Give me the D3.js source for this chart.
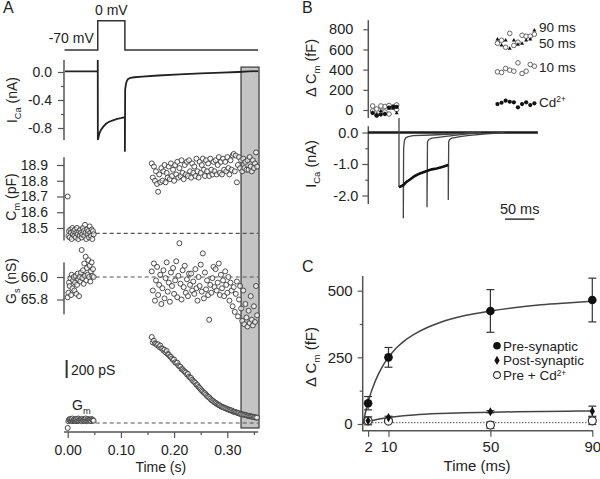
<!DOCTYPE html>
<html><head><meta charset="utf-8">
<script src="https://cdn.jsdelivr.net/npm/d3@7"></script>
<style>body{margin:0;background:#fff}svg{display:block}text{font-family:"Liberation Sans",Arial,Helvetica,sans-serif;fill:#222}</style>
</head><body><svg id="c" width="600" height="479"></svg>
<script>
// ================= DATA =================
// ---- Panel A ----
const voltageT  = [-0.006, 0.0565, 0.0565, 0.1075, 0.1075, 0.358];
const voltageMV = [-70, -70, 0, 0, -70, -70];

const icaAT  = [-0.005, 0.0565, 0.0565, 0.0567, 0.058, 0.060, 0.063, 0.067, 0.072, 0.078, 0.085, 0.093, 0.100, 0.1075, 0.1075, 0.108, 0.1095, 0.111, 0.1135, 0.118, 0.125, 0.140, 0.170, 0.210, 0.250, 0.290, 0.320, 0.340, 0.358];
const icaANA = [0.01, 0.01, 0.17, -0.97, -0.93, -0.87, -0.82, -0.78, -0.74, -0.71, -0.69, -0.67, -0.66, -0.645, -1.14, -0.25, -0.17, -0.13, -0.10, -0.085, -0.075, -0.065, -0.05, -0.035, -0.02, -0.008, 0.0, 0.008, 0.012];

const preStart = 0.0, preStep = 0.00125;     // sampling of the pre-pulse points (s)
const postStart = 0.158, postStep = 0.002;   // sampling of the post-pulse points (s)

const cmPre = [18.70, 18.45, 18.48, 18.44, 18.49, 18.47, 18.43, 18.50, 18.46, 18.48, 18.45, 18.49, 18.44, 18.47, 18.50, 18.46, 18.43, 18.48, 18.45, 18.49, 18.47, 18.44, 18.46, 18.50, 18.48, 18.45, 18.52, 18.47, 18.43, 18.49, 18.46, 18.48, 18.44, 18.51, 18.47, 18.45, 18.49, 18.43, 18.48, 18.46];
const cmPost = [
 18.91, 18.82, 18.89, 18.80, 18.86, 18.78, 18.73, 18.84, 18.79, 18.88,
 18.80, 18.86, 18.90, 18.79, 18.85, 18.82, 18.89, 18.81, 18.91, 18.83,
 18.87, 18.80, 18.90, 18.84, 18.92, 18.82, 18.88, 18.83, 18.93, 18.85,
 18.81, 18.90, 18.84, 18.92, 18.83, 18.93, 18.86, 18.82, 18.91, 18.85,
 18.89, 18.83, 18.94, 18.86, 18.82, 18.92, 18.85, 18.90, 18.94, 18.87,
 18.83, 18.93, 18.86, 18.91, 18.83, 18.94, 18.87, 18.84, 18.92, 18.86,
 18.93, 18.84, 18.90, 18.95, 18.85, 18.92, 18.84, 18.94, 18.87, 18.92,
 18.86, 18.95, 18.88, 18.84, 18.93, 18.87, 18.96, 18.97, 18.86, 18.96,
 18.79, 18.90, 18.95, 18.88, 18.93, 18.86, 18.94, 18.88, 18.92, 18.87,
 18.93, 18.87, 18.95, 18.89, 18.86, 18.93, 18.88, 18.91, 18.98, 18.89];
const cmBaseline = 18.466;

const gsPre = [65.82, 65.86, 65.95, 65.92, 65.99, 65.84, 66.02, 65.90, 65.97, 66.00, 65.88, 65.95, 66.01, 65.85, 65.93, 66.03, 65.98, 65.83, 66.00, 65.96, 66.04, 66.24, 65.99, 66.06, 65.94, 66.12, 66.01, 66.18, 65.97, 66.08, 66.02, 66.15, 66.00, 66.10, 65.96, 66.05, 66.13, 66.01, 66.07, 66.00];
const gsPost = [
 66.05, 65.88, 66.12, 65.79, 65.97, 66.09, 65.84, 65.93, 66.02, 65.76,
 65.90, 66.06, 65.81, 65.99, 66.13, 65.87, 65.95, 65.78, 66.04, 65.92,
 66.08, 65.85, 65.97, 66.14, 65.82, 66.01, 66.30, 65.94, 65.80, 66.06,
 65.91, 66.10, 65.86, 65.98, 65.83, 66.03, 65.93, 66.03, 65.88, 65.96,
 65.85, 66.07, 65.90, 65.79, 66.00, 65.92, 66.11, 65.87, 66.21, 65.81,
 66.04, 65.89, 65.97, 65.84, 65.62, 65.93, 65.86, 65.99, 66.09, 65.91,
 66.07, 65.88, 65.95, 66.12, 65.84, 66.02, 65.90, 65.97, 65.83, 66.05,
 65.93, 65.86, 66.00, 65.79, 65.95, 65.88, 65.74, 65.91, 65.69, 65.85,
 65.96, 65.65, 65.80, 65.92, 65.72, 65.61, 65.88, 65.58, 65.76, 65.64,
 65.56, 65.70, 65.59, 65.83, 65.62, 65.57, 65.74, 65.60, 65.92, 65.66];
const gsBaseline = 66.0;

const gmPre = [-55, 20, 40, 30, 45, 25, 35, 50, 20, 30, 40, 25, 35, 45, 20, 30, 50, 25, 40, 30, 35, 20, 45, 30, 25, 40, 35, 50, 20, 30, 45, 25, 35, 40, 30, 20, 45, 35, 30, 25];
const gmPost = [
 955, 895, 915, 885, 880, 865, 875, 845, 860, 830,
 825, 805, 815, 785, 800, 765, 760, 740, 735, 715,
 700, 705, 675, 665, 670, 640, 630, 625, 600, 595,
 580, 570, 560, 540, 545, 515, 505, 500, 480, 465,
 455, 445, 425, 420, 400, 390, 375, 360, 350, 335,
 330, 315, 300, 290, 285, 270, 255, 250, 240, 230,
 225, 215, 205, 200, 195, 185, 180, 175, 170, 165,
 160, 155, 150, 145, 140, 140, 130, 125, 125, 120,
 115, 110, 110, 100, 100, 95, 95, 90, 90, 85,
 80, 80, 75, 75, 70, 70, 65, 65, 60, 60];
const grayWindow = [0.3258, 0.3596];

// ---- Panel B ----
const bBaseT = [-53, 237], bBaseNA = [0, 0];
const bOnsetT = [0, 0], bOnsetNA = [0.46, -1.73];
const b10T  = [0, 7.4, 7.4, 7.9, 9.4, 12, 16, 24, 56, 100, 130];
const b10NA = [-1.73, -1.66, -2.72, -0.5, -0.24, -0.16, -0.13, -0.10, -0.08, -0.04, 0];
const b50T  = [0, 1.7, 7.3, 12, 18.8, 27, 35.8, 47.8, 47.8, 48.6, 51, 56, 64, 80, 110, 140];
const b50NA = [-1.73, -1.72, -1.67, -1.58, -1.49, -1.38, -1.30, -1.21, -2.37, -0.29, -0.22, -0.18, -0.16, -0.12, -0.06, 0];
const b90T  = [0, 1.7, 7.3, 12, 18.8, 27, 35.8, 47.3, 56, 64.3, 75, 84.1, 84.1, 84.8, 86.5, 90, 95.5, 104, 120, 150, 180];
const b90NA = [-1.73, -1.72, -1.67, -1.58, -1.49, -1.38, -1.30, -1.22, -1.17, -1.14, -1.09, -1.03, -2.14, -0.29, -0.22, -0.18, -0.16, -0.13, -0.09, -0.04, 0];

const bLeftT  = [-45, -38, -31, -24, -17, -10, -4];
const bRightT = [168, 175, 182, 189, 196, 203, 210, 217, 224, 231];
const dcm10Left  = [40, 10, 40, -20, 45, 25, 50];
const dcm50Left  = [-25, -45, -10, -35, 15, 20, -30];
const dcm90Left  = [-10, -50, 0, 35, -40, 30, 5];
const dcmCdLeft  = [-30, -55, -45, -40, 25, 30, 30];
const dcm10Right = [378, 372, 412, 395, 385, 467, 362, 385, 451, 434];
const dcm50Right = [700, 640, 691, 610, 691, 649, 659, 690, 700, 790];
const dcm90Right = [662, 691, 622, 760, 640, 672, 741, 731, 731, 751];
const dcmCdRight = [59, 72, 92, 82, 76, 27, 59, 76, 49, 66];
const bSeriesLabels = ["90 ms", "50 ms", "10 ms", "Cd"];

// ---- Panel C ----
const cTimes   = [2, 10, 50, 90];
const preMean  = [78, 250, 424, 465];
const preErr   = [25, 37, 80, 82];
const postMean = [12, 24, 46, 48];
const postErr  = [5, 5, 4, 19];
const cdMean   = [12, 11, -4, 12];
const cdErr    = [15, 5, 12, 14];
const fitPreT  = [0, 1, 2, 3, 4, 6, 8, 10, 13, 16, 20, 25, 30, 40, 50, 60, 70, 80, 90];
const fitPreV  = [0, 45, 82, 114, 141, 186, 222, 250, 284, 310, 336, 361, 380, 407, 424, 437, 447, 454, 460];
const fitPostT = [0, 2, 5, 10, 15, 20, 30, 40, 50, 60, 70, 80, 90];
const fitPostV = [3, 9, 16, 24, 30, 34, 39, 42, 44, 46, 47, 48, 49];
const cdLevel  = 5;
const legendLabels = ["Pre-synaptic", "Post-synaptic", "Pre + Cd"];

// ================= DRAW =================
const svg = d3.select("#c");
const sans = '"Liberation Sans", Arial, Helvetica, sans-serif';
const AX = "#555", INK = "#222";
const FA = 14, FB = 14.5, FC = 15;

function styleAxis(g, fs) {
  g.attr("font-family", sans).attr("font-size", fs);
  g.select(".domain").remove();
  g.selectAll(".tick line").attr("stroke", AX).attr("stroke-width", 1.2);
  g.selectAll(".tick text").attr("fill", INK);
}
function axisLine(x1, y1, x2, y2) {
  svg.append("line").attr("x1", x1).attr("y1", y1).attr("x2", x2).attr("y2", y2)
    .attr("stroke", AX).attr("stroke-width", 1.5);
}
function label(x, y, parts, opts = {}) {
  const fs = opts.fs || 15;
  const t = svg.append("text").attr("font-size", fs).attr("text-anchor", opts.anchor || "start");
  if (opts.rotate) t.attr("transform", `translate(${x},${y}) rotate(-90)`);
  else t.attr("x", x).attr("y", y);
  let shift = 0;
  parts.forEach(p => {
    const s = t.append("tspan").text(p.text);
    const want = p.sub ? 3.5 : p.sup ? -4.5 : 0;
    if (want !== shift) { s.attr("dy", want - shift); shift = want; }
    if (p.sub || p.sup) s.attr("font-size", fs * (p.sup ? 0.62 : 0.66));
  });
  return t;
}
const zip = (a, b) => a.map((d, i) => [d, b[i]]);

// ---------- Panel A scales ----------
const xA  = d3.scaleLinear().domain([0, 0.1]).range([67.7, 120.9]);
const vA  = d3.scaleLinear().domain([-70, 0]).range([50, 20.7]);
const iA  = d3.scaleLinear().domain([0, -0.8]).range([72, 128]);
const cmA = d3.scaleLinear().domain([18.9, 18.5]).range([165, 228]);
const gsA = d3.scaleLinear().domain([66.0, 65.8]).range([277, 299.5]);
const gmA = d3.scaleLinear().domain([0, 200]).range([423, 405]);

// gray analysis window
svg.append("rect").attr("x", xA(grayWindow[0])).attr("y", iA(0.07))
  .attr("width", xA(grayWindow[1]) - xA(grayWindow[0])).attr("height", gmA(-55) - iA(0.07))
  .attr("fill", "#c4c4c4").attr("stroke", "#444").attr("stroke-width", 1.3);

svg.append("text").attr("x", 3).attr("y", 13).attr("font-size", 16).text("A");

// voltage protocol
svg.append("path").attr("d", d3.line().x(d => xA(d[0])).y(d => vA(d[1]))(zip(voltageT, voltageMV)))
  .attr("fill", "none").attr("stroke", "#333").attr("stroke-width", 1.5);
svg.append("text").attr("x", xA(0.082)).attr("y", vA(0) - 6).attr("text-anchor", "middle").attr("font-size", FA).text("0 mV");
svg.append("text").attr("x", xA(0.0565) - 4).attr("y", vA(-70) - 7).attr("text-anchor", "end").attr("font-size", FA).text("-70 mV");

// ICa axis
axisLine(64, iA(0.17), 64, iA(-0.97));
svg.append("g").attr("transform", "translate(64,0)")
  .call(d3.axisLeft(iA).tickValues([0, -0.4, -0.8]).tickFormat(d => d.toFixed(1)).tickSize(6).tickPadding(6))
  .call(g => styleAxis(g, FA));
svg.append("g").attr("transform", "translate(64,0)")
  .call(d3.axisLeft(iA).tickValues([-0.2, -0.6]).tickFormat("").tickSize(3))
  .call(g => styleAxis(g, FA));
label(17, 100, [{text: "I"}, {text: "Ca", sub: true}, {text: " (nA)"}], {rotate: true, anchor: "middle", fs: FA});

// ICa trace
svg.append("path").attr("d", d3.line().x(d => xA(d[0])).y(d => iA(d[1]))(zip(icaAT, icaANA)))
  .attr("fill", "none").attr("stroke", "#222").attr("stroke-width", 1.8);

// Cm axis
axisLine(64, cmA(18.95), 64, cmA(18.42));
svg.append("g").attr("transform", "translate(64,0)")
  .call(d3.axisLeft(cmA).tickValues([18.5, 18.6, 18.7, 18.8, 18.9]).tickFormat(d => d.toFixed(1)).tickSize(7).tickPadding(9))
  .call(g => styleAxis(g, FA));
label(16, 197, [{text: "C"}, {text: "m", sub: true}, {text: " (pF)"}], {rotate: true, anchor: "middle", fs: FA});

// Gs axis
axisLine(64, gsA(66.13), 64, gsA(65.67));
svg.append("g").attr("transform", "translate(64,0)")
  .call(d3.axisLeft(gsA).tickValues([66.0, 65.8]).tickFormat(d => d.toFixed(1)).tickSize(7).tickPadding(9))
  .call(g => styleAxis(g, FA));
label(16, 281, [{text: "G"}, {text: "s", sub: true}, {text: " (nS)"}], {rotate: true, anchor: "middle", fs: FA});

// dashed baselines
function dashed(y) {
  svg.append("line").attr("x1", xA(0)).attr("x2", xA(0.358)).attr("y1", y).attr("y2", y)
    .attr("stroke", "#555").attr("stroke-width", 1.2).attr("stroke-dasharray", "4,3");
}
dashed(cmA(cmBaseline)); dashed(gsA(gsBaseline)); dashed(gmA(0));

// scatter helper
function scatterA(vals, t0, dt, yScale) {
  svg.append("g").selectAll("circle").data(vals).join("circle")
    .attr("cx", (d, i) => xA(t0 + i * dt)).attr("cy", d => yScale(d)).attr("r", 2.5)
    .attr("fill", "#fff").attr("fill-opacity", 0.6).attr("stroke", "#3a3a3a").attr("stroke-width", 0.9);
}
scatterA(cmPre, preStart, preStep, cmA);
scatterA(cmPost, postStart, postStep, cmA);
scatterA(gsPre, preStart, preStep, gsA);
scatterA(gsPost, postStart, postStep, gsA);
scatterA(gmPre, preStart, preStep, gmA);
scatterA(gmPost, postStart, postStep, gmA);

// 200 pS scale bar + Gm label
svg.append("line").attr("x1", xA(-0.002)).attr("x2", xA(-0.002)).attr("y1", gmA(500)).attr("y2", gmA(700))
  .attr("stroke", "#333").attr("stroke-width", 2);
svg.append("text").attr("x", 71).attr("y", gmA(500) - 3).attr("font-size", FA).text("200 pS");
label(72, 410, [{text: "G"}, {text: "m", sub: true}], {fs: FA});

// time axis
axisLine(64, 432, xA(0.358), 432);
svg.append("g").attr("transform", "translate(0,432)")
  .call(d3.axisBottom(xA).tickValues([0, 0.1, 0.2, 0.3]).tickFormat(d => d.toFixed(2)).tickSize(6).tickPadding(7))
  .call(g => styleAxis(g, FA));
svg.append("g").attr("transform", "translate(0,432)")
  .call(d3.axisBottom(xA).tickValues([0.05, 0.15, 0.25, 0.35]).tickFormat("").tickSize(3))
  .call(g => styleAxis(g, FA));
svg.append("text").attr("x", xA(0.175)).attr("y", 472).attr("text-anchor", "middle").attr("font-size", FA).text("Time (s)");

// ---------- Panel B ----------
const tB  = d3.scaleLinear().domain([0, 50]).range([399, 428.3]);
const cmB = d3.scaleLinear().domain([0, 800]).range([110, 29.3]);
const iB  = d3.scaleLinear().domain([0, -2]).range([132.5, 195.5]);

svg.append("text").attr("x", 302).attr("y", 13).attr("font-size", 16).text("B");

axisLine(368.3, cmB(890), 368.3, cmB(-80));
svg.append("g").attr("transform", "translate(368.3,0)")
  .call(d3.axisLeft(cmB).tickValues([0, 200, 400, 600, 800]).tickSize(5).tickPadding(10))
  .call(g => styleAxis(g, FB));
label(316, 68, [{text: "Δ C"}, {text: "m", sub: true}, {text: " (fF)"}], {rotate: true, anchor: "middle", fs: FB});

axisLine(368.3, iB(0.2), 368.3, iB(-2.27));
svg.append("g").attr("transform", "translate(368.3,0)")
  .call(d3.axisLeft(iB).tickValues([0, -1, -2]).tickFormat(d => d.toFixed(1)).tickSize(6).tickPadding(4))
  .call(g => styleAxis(g, FB));
svg.append("g").attr("transform", "translate(368.3,0)")
  .call(d3.axisLeft(iB).tickValues([-0.5, -1.5]).tickFormat("").tickSize(3))
  .call(g => styleAxis(g, FB));
label(316, 164, [{text: "I"}, {text: "Ca", sub: true}, {text: " (nA)"}], {rotate: true, anchor: "middle", fs: FB});

const lineB = d3.line().x(d => tB(d[0])).y(d => iB(d[1]));
function pathB(t, v, w, c) {
  svg.append("path").attr("d", lineB(zip(t, v))).attr("fill", "none").attr("stroke", c || "#222").attr("stroke-width", w);
}
pathB(bBaseT, bBaseNA, 2.6, "#1a1a1a");
pathB(bOnsetT, bOnsetNA, 1.3, "#444");
pathB(b10T, b10NA, 1.3, "#444");
pathB(b50T, b50NA, 1.3, "#444");
pathB(b90T, b90NA, 1.3, "#444");
pathB(b90T.slice(0, 12), b90NA.slice(0, 12), 2.6, "#111");

// scale bar 50 ms
svg.append("line").attr("x1", tB(181)).attr("x2", tB(231)).attr("y1", iB(-2.75)).attr("y2", iB(-2.75))
  .attr("stroke", "#333").attr("stroke-width", 1.5);
svg.append("text").attr("x", tB(206)).attr("y", iB(-2.75) - 5).attr("text-anchor", "middle").attr("font-size", FB).text("50 ms");

// ΔCm scatter
function openB(t, v) {
  svg.append("g").selectAll("circle").data(v).join("circle")
    .attr("cx", (d, i) => tB(t[i])).attr("cy", d => cmB(d)).attr("r", 2.3)
    .attr("fill", "#fff").attr("stroke", "#555").attr("stroke-width", 0.9);
}
function filledB(t, v) {
  svg.append("g").selectAll("circle").data(v).join("circle")
    .attr("cx", (d, i) => tB(t[i])).attr("cy", d => cmB(d)).attr("r", 2.1).attr("fill", "#111");
}
function triB(t, v) {
  svg.append("g").selectAll("path").data(v).join("path")
    .attr("d", d3.symbol(d3.symbolTriangle, 7))
    .attr("transform", (d, i) => `translate(${tB(t[i])},${cmB(d)})`).attr("fill", "#111");
}
openB(bLeftT, dcm90Left); openB(bRightT, dcm90Right);
openB(bLeftT, dcm10Left); openB(bRightT, dcm10Right);
triB(bLeftT, dcm50Left); triB(bRightT, dcm50Right);
filledB(bLeftT, dcmCdLeft); filledB(bRightT, dcmCdRight);

const FS_B = 13.5;
svg.append("text").attr("x", 539).attr("y", 32).attr("font-size", FS_B).text(bSeriesLabels[0]);
svg.append("text").attr("x", 539).attr("y", 47.5).attr("font-size", FS_B).text(bSeriesLabels[1]);
svg.append("text").attr("x", 539).attr("y", 72).attr("font-size", FS_B).text(bSeriesLabels[2]);
label(539, 106.5, [{text: bSeriesLabels[3]}, {text: "2+", sup: true}], {fs: FS_B});

// ---------- Panel C ----------
const xC = d3.scaleLinear().domain([0, 90]).range([363, 592.3]);
const yC = d3.scaleLinear().domain([0, 500]).range([424, 290.7]);

svg.append("text").attr("x", 302).attr("y", 272).attr("font-size", 16).text("C");

axisLine(362.7, yC(555), 362.7, 430.7);
axisLine(362, 430.7, xC(90.3), 430.7);
svg.append("g").attr("transform", "translate(362.7,0)")
  .call(d3.axisLeft(yC).tickValues([0, 250, 500]).tickSize(5).tickPadding(5))
  .call(g => styleAxis(g, FC));
svg.append("g").attr("transform", "translate(362.7,0)")
  .call(d3.axisLeft(yC).tickValues([125, 375]).tickFormat("").tickSize(3))
  .call(g => styleAxis(g, FC));
svg.append("g").attr("transform", "translate(0,430.7)")
  .call(d3.axisBottom(xC).tickValues([2, 10, 50, 90]).tickSize(6).tickPadding(5))
  .call(g => styleAxis(g, FC));
svg.append("text").attr("x", 477).attr("y", 471).attr("text-anchor", "middle").attr("font-size", FC).text("Time (ms)");
label(316, 357, [{text: "Δ C"}, {text: "m", sub: true}, {text: " (fF)"}], {rotate: true, anchor: "middle", fs: FC});

// dotted Cd level
svg.append("line").attr("x1", xC(0)).attr("x2", xC(90)).attr("y1", yC(cdLevel)).attr("y2", yC(cdLevel))
  .attr("stroke", "#777").attr("stroke-width", 1.1).attr("stroke-dasharray", "1.5,1.5");
// fits
const lineC = d3.line().x(d => xC(d[0])).y(d => yC(d[1])).curve(d3.curveMonotoneX);
svg.append("path").attr("d", lineC(zip(fitPreT, fitPreV))).attr("fill", "none").attr("stroke", "#444").attr("stroke-width", 1.5);
svg.append("path").attr("d", lineC(zip(fitPostT, fitPostV))).attr("fill", "none").attr("stroke", "#444").attr("stroke-width", 1.5);

function errBars(m, e) {
  const g = svg.append("g").attr("stroke", "#333").attr("stroke-width", 1.2);
  cTimes.forEach((t, i) => {
    const x = xC(t);
    g.append("line").attr("x1", x).attr("x2", x).attr("y1", yC(m[i] - e[i])).attr("y2", yC(m[i] + e[i]));
    [m[i] - e[i], m[i] + e[i]].forEach(v => g.append("line").attr("x1", x - 4).attr("x2", x + 4).attr("y1", yC(v)).attr("y2", yC(v)));
  });
}
errBars(cdMean, cdErr);
errBars(postMean, postErr);
errBars(preMean, preErr);

svg.append("g").selectAll("circle").data(cdMean).join("circle")
  .attr("cx", (d, i) => xC(cTimes[i])).attr("cy", d => yC(d)).attr("r", 4)
  .attr("fill", "#fff").attr("stroke", "#333").attr("stroke-width", 1.2);
svg.append("g").selectAll("path").data(postMean).join("path")
  .attr("d", d3.symbol(d3.symbolDiamond, 24))
  .attr("transform", (d, i) => `translate(${xC(cTimes[i])},${yC(d)})`).attr("fill", "#111");
svg.append("g").selectAll("circle").data(preMean).join("circle")
  .attr("cx", (d, i) => xC(cTimes[i])).attr("cy", d => yC(d)).attr("r", 4.3).attr("fill", "#111");

// legend
const lgX = 497, lgY = [345.8, 360.4, 375], FL = 13.5;
svg.append("circle").attr("cx", lgX).attr("cy", lgY[0]).attr("r", 3.8).attr("fill", "#111");
svg.append("path").attr("d", d3.symbol(d3.symbolDiamond, 24)).attr("transform", `translate(${lgX},${lgY[1]})`).attr("fill", "#111");
svg.append("circle").attr("cx", lgX).attr("cy", lgY[2]).attr("r", 3.4).attr("fill", "#fff").attr("stroke", "#333").attr("stroke-width", 1.1);
svg.append("text").attr("x", 503).attr("y", lgY[0] + 5).attr("font-size", FL).text(legendLabels[0]);
svg.append("text").attr("x", 503).attr("y", lgY[1] + 5).attr("font-size", FL).text(legendLabels[1]);
label(503, lgY[2] + 5, [{text: legendLabels[2]}, {text: "2+", sup: true}], {fs: FL});
</script></body></html>
